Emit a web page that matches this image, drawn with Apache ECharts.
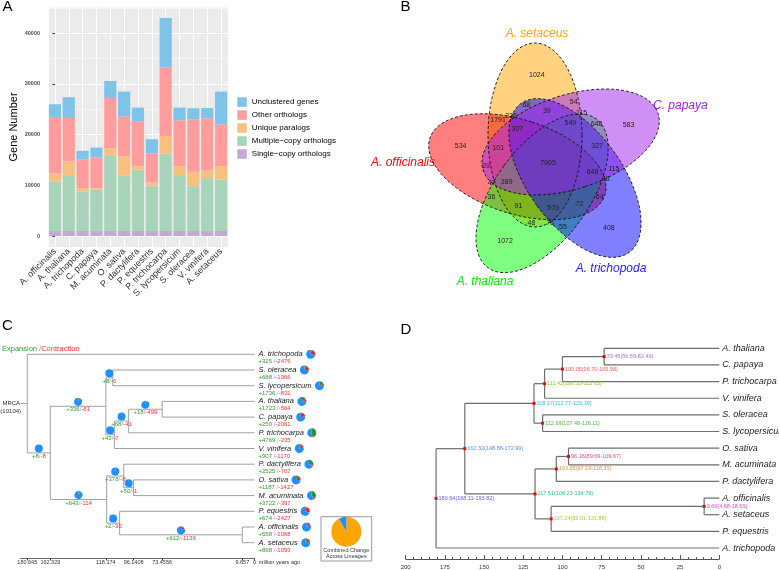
<!DOCTYPE html>
<html><head><meta charset="utf-8">
<script src="https://cdn.jsdelivr.net/npm/echarts@6/dist/echarts.min.js"></script>
<style>html,body{margin:0;padding:0;background:#fff}#c{width:779px;height:570px}</style>
</head><body><div id="c"></div>
<script>
// ================= DATA =================
// Panel A: gene family clustering
const speciesA = ['A. officinalis','A. thaliana','A. trichopoda','C. papaya','M. acuminata','O. sativa','P. dactylifera','P. equestris','P. trichocarpa','S. lycopersicum','S. oleracea','V. vinifera','A. setaceus'];
const singleCopy     = [1000,1000,1000,1000,1000,1000,1000,1000,1000,1000,1000,1000,1000];
const multipleCopy   = [9760,11000,7790,8120,14940,10880,12120,8840,15270,11010,8840,10420,10150];
const uniqueParalogs = [1580,2700,660,330,1320,3870,660,720,3480,1770,2820,1570,2630];
const otherOrthologs = [10950,8590,5640,6040,9970,7810,8790,5710,13450,9050,10310,10240,8200];
const unclustered    = [2690,4070,1710,1960,3350,4920,2760,2820,9780,2500,2230,2030,6500];
const yTicksA = [0,10000,20000,30000,40000];
const seriesNamesA = ['Single\u2212copy orthologs','Multiple\u2212copy orthologs','Unique paralogs','Other orthologs','Unclustered genes'];

// Panel B: Venn counts (sets clockwise from top; ring arrays indexed by the same rotation)
const vennSets = ['A. setaceus','C. papaya','A. trichopoda','A. thaliana','A. officinalis'];
const vennUnique     = [1024,583,408,1072,534];
const vennRingInner  = [549,648,579,389,307];
const vennRingMid    = [39,327,72,91,101];
const vennRingOuterA = [68,648,64,48,29];
const vennRingOuterB = [54,115,55,36,1791];
const vennRingOuterC = [115,48,76,47,236];
const vennCore = 7905;

// Panel C: CAFE expansion / contraction
const treeC = ['root',180.645,['A. trichopoda',
  ['n162',162.329,[
    ['eud',118.174,[
      ['sol',112.69,['S. oleracea','S. lycopersicum']],
      ['ros',111.42,[['n100',100.05,[['n73',73.4556,['A. thaliana','C. papaya']],'P. trichocarpa']],'V. vinifera']]]],
    ['mono',117.51,[
      ['n104',103.95,['P. dactylifera',['n96',96.1408,['O. sativa','M. acuminata']]]],
      ['n107',107.24,['P. equestris',['n10',9.657,['A. officinalis','A. setaceus']]]]]]]]]];
const cafeIds  = ['A. trichopoda','S. oleracea','S. lycopersicum','A. thaliana','C. papaya','P. trichocarpa','V. vinifera','P. dactylifera','O. sativa','M. acuminata','P. equestris','A. officinalis','A. setaceus','n162','eud','sol','ros','n100','n73','mono','n104','n96','n107','n10'];
const cafeGain = [325,688,1736,1723,250,4769,907,2525,1187,3722,674,558,898, 8,336,8,43,68,18,643,378,50,2,612];
const cafeLoss = [2476,1966,831,564,2061,235,1170,707,1427,397,2427,1068,1093, 8,81,6,7,41,499,114,8,1,30,1136];
const cafeRootFamilies = 10104;
const cafeAxisTicks = [180.645,162.329,118.174,96.1408,73.4556,9.657,0];
const combinedChange = [92,8];

// Panel D: divergence times
const treeD = ['root',180.64,[
  ['n162',162.32,[
    ['eud',118.17,[
      ['ros',111.42,[['n100',100.05,[['n73',73.45,['A. thaliana','C. papaya']],'P. trichocarpa']],'V. vinifera']],
      ['sol',112.69,['S. oleracea','S. lycopersicum']]]],
    ['mono',117.51,[
      ['n104',103.95,[['n96',96.16,['O. sativa','M. acuminata']],'P. dactylifera']],
      ['n107',107.24,[['n10',9.66,['A. officinalis','A. setaceus']],'P. equestris']]]]]],
  'A. trichopoda']];
const divIds = ['root','n162','eud','ros','n100','n73','sol','mono','n104','n96','n107','n10'];
const divLow  = [168.11,148.88,112.77,106.15,96.70,56.59,107.48,108.23,97.19,89.69,95.01,4.68];
const divHigh = [193.82,172.99,123.30,115.05,105.98,82.46,116.11,134.79,118.31,109.67,121.88,18.59];

// ================= STYLE / LAYOUT =================
const FONT = 'Liberation Sans';
const colorsA = ['#C3A8D8','#A8D4BA','#F7C07F','#FF9D9D','#80C3E8'];
const divColors = {root:'#5A5AE0',n162:'#5C8FDF',eud:'#33C6C6',ros:'#8CC43A',n100:'#E86262',n73:'#A070F0',sol:'#4DB84D',mono:'#33BF8A',n104:'#E0904C',n96:'#E04C82',n107:'#C6BE3C',n10:'#E048E0'};
const pieCols = ['#249A24','#FF1A1A','#1E90FF'];
const VENN = {cx:548, cy:163, rx:47, ry:92, off:[-13,-28]};
const vennFill = ['#FFA500','#A020F0','#0000FF','#00FF00','#FF0000'];
const vennDrawOrder = [0,4,3,2,1];
const vennRegionPolar = [[-7.2,89],[29.5,45.4],[-1.3,52],[-20.5,62],[22.9,66],[34,60]];
const vennSetLabel = [[-11,-129,'center'],[105,-57,'left'],[63,106,'center'],[-63,119,'center'],[-113,0,'right']];
const vennLabelColor = ['#FFA500','#A020F0','#2020FF','#00EE00','#FF0000'];

// ================= HELPERS =================
function layoutTree(tree){
  const segs=[], nodes=[]; let leaf=0;
  (function walk(n, parentAge){
    if (typeof n === 'string'){
      const y = leaf++;
      nodes.push({name:n, age:0, y, leaf:true, parentAge});
      segs.push([parentAge,y,0,y]);
      return y;
    }
    const [id, age, kids] = n;
    const ys = kids.map(k => walk(k, age));
    const y0 = Math.min(...ys), y1 = Math.max(...ys), y = (y0+y1)/2;
    segs.push([age,y0,age,y1]);
    if (parentAge != null) segs.push([parentAge,y,age,y]);
    nodes.push({name:id, age, y, leaf:false, parentAge});
    return y;
  })(tree, null);
  return {segs, nodes};
}
const LC = layoutTree(treeC), LD = layoutTree(treeD);
const mctx = document.createElement('canvas').getContext('2d');
function textW(s, font){ mctx.font = font; return mctx.measureText(s).width; }
function rot(v, deg){ const t=deg*Math.PI/180, c=Math.cos(t), s=Math.sin(t); return [v[0]*c - v[1]*s, v[0]*s + v[1]*c]; }
function pieEls(cx, cy, r, parts){
  const tot = parts.reduce((a,b)=>a+b,0); let a = -Math.PI/2; const out=[];
  parts.forEach((v,i)=>{ if(v<=0) return; const a0=a; a += v/tot*2*Math.PI;
    out.push({type:'sector', shape:{cx,cy,r0:0,r,startAngle:a0,endAngle:a,clockwise:true}, style:{fill:pieCols[i]}}); });
  return out;
}
function countsRich(g, l, sp){ return '{g|+' + g + sp + '}{s|/}{r|-' + l + '}'; }
const richCounts = (fs)=>({g:{fill:'#2E9E2E',fontSize:fs,fontFamily:FONT}, s:{fill:'#6FA8E0',fontSize:fs,fontFamily:FONT}, r:{fill:'#FF3030',fontSize:fs,fontFamily:FONT}});

function segSeries(name, xi, yi, L, stroke, w){
  return {name, type:'custom', xAxisIndex:xi, yAxisIndex:yi, data:L.segs, silent:true, z:3,
    renderItem:(p, api)=>{
      const a = api.coord([api.value(0), api.value(1)]), b = api.coord([api.value(2), api.value(3)]);
      return {type:'line', shape:{x1:a[0],y1:a[1],x2:b[0],y2:b[1]}, style:{stroke, lineWidth:w}};
    }};
}

// Venn items
const vennRings = [vennUnique, vennRingInner, vennRingMid, vennRingOuterA, vennRingOuterB, vennRingOuterC];
const vennItems = [];
vennRings.forEach((arr, t)=> arr.forEach((v,k)=> vennItems.push({v, ang:72*k + vennRegionPolar[t][0], r:vennRegionPolar[t][1]})));
vennItems.push({v:vennCore, ang:0, r:0});
function ellipsePts(k){
  const c = rot(VENN.off, 72*k), pts=[];
  for (let i=0;i<96;i++){ const t=i/96*2*Math.PI; const q = rot([VENN.rx*Math.cos(t), VENN.ry*Math.sin(t)], 72*k);
    pts.push([VENN.cx + c[0] + q[0], VENN.cy + c[1] + q[1]]); }
  return pts;
}

const option = {
  animation:false,
  textStyle:{fontFamily:FONT},
  grid:[
    {left:48, top:7, width:180, height:240, show:true, backgroundColor:'#EBEBEB', borderWidth:0},
    {left:20.55, top:354.3, width:233.95, height:188.4},
    {left:405.7, top:348.3, width:313.6, height:200}
  ],
  xAxis:[
    {type:'category', gridIndex:0, data:speciesA, axisLine:{show:false},
      axisTick:{alignWithLabel:true, length:2.5, lineStyle:{color:'#333'}},
      axisLabel:{rotate:45, fontSize:9, color:'#333', margin:3, interval:0}, splitLine:{show:false}},
    {type:'value', gridIndex:0, min:-0.5, max:12.5, splitNumber:13, axisLine:{show:false}, axisTick:{show:false}, axisLabel:{show:false},
      splitLine:{show:true, lineStyle:{color:'#fff', width:1}}},
    {type:'value', gridIndex:1, inverse:true, min:0, max:186, offset:15.7, position:'bottom',
      axisLine:{onZero:false, lineStyle:{color:'#444', width:0.8}},
      axisTick:{customValues:cafeAxisTicks, length:2, lineStyle:{color:'#444'}},
      axisLabel:{customValues:cafeAxisTicks, fontSize:5.5, color:'#333', margin:1.5, formatter:v=>String(v)},
      splitLine:{show:false}},
    {type:'value', gridIndex:2, inverse:true, min:0, max:200, interval:25, offset:11, position:'bottom',
      axisLine:{onZero:false, lineStyle:{color:'#555'}},
      axisTick:{inside:true, length:4, lineStyle:{color:'#555'}},
      minorTick:{show:true, splitNumber:5, length:2, lineStyle:{color:'#555'}},
      axisLabel:{fontSize:6, color:'#333', margin:5}, splitLine:{show:false}}
  ],
  yAxis:[
    {type:'value', gridIndex:0, min:-2150, max:45150, axisLine:{show:false},
      axisTick:{length:2.5, customValues:yTicksA, lineStyle:{color:'#333'}},
      axisLabel:{customValues:yTicksA, formatter:v=> (v%10000===0 && v>=0) ? String(v) : '', fontSize:5.5, fontWeight:'bold', color:'#4D4D4D', margin:8},
      splitLine:{lineStyle:{color:'#fff', width:1}},
      name:'Gene Number', nameLocation:'middle', nameGap:29, nameTextStyle:{fontSize:11, color:'#000'}},
    {type:'value', gridIndex:0, min:-2150, max:45150, splitNumber:10, axisLine:{show:false}, axisTick:{show:false}, axisLabel:{show:false},
      splitLine:{lineStyle:{color:'#fff', width:0.5}}},
    {type:'value', gridIndex:1, min:0, max:12, inverse:true, show:false},
    {type:'value', gridIndex:2, min:0, max:12, inverse:true, show:false}
  ],
  legend:{data:seriesNamesA.slice().reverse(), left:237.3, top:97.3, orient:'vertical', itemWidth:9.5, itemHeight:9.5, itemGap:3.5,
    padding:0, icon:'rect', selectedMode:false, textStyle:{fontSize:8, color:'#000'}},
  graphic:[
    {type:'text', x:2.5, y:-1, style:{text:'A', fontSize:15, fill:'#000', fontFamily:FONT}},
    {type:'text', x:400.5, y:-1, style:{text:'B', fontSize:15, fill:'#000', fontFamily:FONT}},
    {type:'text', x:2, y:318.7, style:{text:'C', fontSize:15, fill:'#000', fontFamily:FONT}},
    {type:'text', x:400.5, y:322, style:{text:'D', fontSize:15, fill:'#000', fontFamily:FONT}},
    {type:'text', x:2, y:349, style:{text:'{g|Expansion }{s|/}{r|Contraction}', verticalAlign:'middle', rich:richCounts(7.5)}},
    {type:'text', x:258.8, y:562.3, style:{text:'million years ago', fontSize:5.5, fill:'#333', fontFamily:FONT, verticalAlign:'middle'}},
    {type:'rect', shape:{x:321,y:516.7,width:50.7,height:44.3}, style:{fill:'none', stroke:'#999', lineWidth:1}},
    {type:'text', x:346.3, y:550.6, style:{text:'Combined Change', fontSize:5.5, fill:'#333', fontFamily:FONT, align:'center', verticalAlign:'middle'}},
    {type:'text', x:346.3, y:556.3, style:{text:'Across Lineages', fontSize:5.5, fill:'#333', fontFamily:FONT, align:'center', verticalAlign:'middle'}}
  ].concat(vennSets.map((s,k)=>({type:'text', x:VENN.cx+vennSetLabel[k][0], y:VENN.cy+vennSetLabel[k][1],
      style:{text:s, fontSize:12, fontStyle:'italic', fill:vennLabelColor[k], fontFamily:FONT, align:vennSetLabel[k][2], verticalAlign:'middle'}}))),
  series:[]
};

// Panel A bars
[singleCopy, multipleCopy, uniqueParalogs, otherOrthologs, unclustered].forEach((d,i)=>{
  option.series.push({name:seriesNamesA[i], type:'bar', stack:'genes', xAxisIndex:0, yAxisIndex:0, data:d, barWidth:'88%',
    itemStyle:{color:colorsA[i]}, silent:true});
});

// Panel B Venn fills, outlines, labels
option.series.push({name:'vennFill', type:'custom', coordinateSystem:'none', data:vennDrawOrder, silent:true, z:2,
  renderItem:(p)=>{ const k = vennDrawOrder[p.dataIndex];
    return {type:'polygon', shape:{points:ellipsePts(k)}, style:{fill:vennFill[k], opacity:0.5}}; }});
option.series.push({name:'vennLine', type:'custom', coordinateSystem:'none', data:[0,1,2,3,4], silent:true, z:3,
  renderItem:(p)=>({type:'polygon', shape:{points:ellipsePts(p.dataIndex)}, style:{fill:'none', stroke:'#111', lineWidth:0.9, lineDash:[3,2]}})});
option.series.push({name:'vennLabels', type:'custom', coordinateSystem:'none', data:vennItems.map(d=>d.v), silent:true, z:4,
  renderItem:(p)=>{ const it = vennItems[p.dataIndex]; const q = rot([0,-it.r], it.ang);
    return {type:'text', x:VENN.cx+q[0], y:VENN.cy+q[1], style:{text:String(it.v), fontSize:7, fill:'#222', fontFamily:FONT, align:'center', verticalAlign:'middle'}}; }});

// Panel C tree
option.series.push(segSeries('treeC', 2, 2, LC, '#A0A0A0', 1));
option.series.push({name:'cafeNodes', type:'custom', xAxisIndex:2, yAxisIndex:2, data:LC.nodes.map(n=>[n.age,n.y]), silent:true, z:5,
  renderItem:(p, api)=>{
    const n = LC.nodes[p.dataIndex]; const ch=[];
    if (n.parentAge == null){
      const a = api.coord([186, n.y]), b = api.coord([n.age, n.y]);
      ch.push({type:'line', shape:{x1:a[0],y1:a[1],x2:b[0],y2:b[1]}, style:{stroke:'#A0A0A0', lineWidth:1}});
      ch.push({type:'text', x:a[0]-0.5, y:a[1]-0.5, style:{text:'MRCA', fontSize:6, fill:'#333', fontFamily:FONT, align:'right', verticalAlign:'middle'}});
      ch.push({type:'text', x:a[0]+0.5, y:a[1]+7.5, style:{text:'(' + cafeRootFamilies + ')', fontSize:6, fill:'#333', fontFamily:FONT, align:'right', verticalAlign:'middle'}});
      return {type:'group', children:ch};
    }
    const gi = cafeIds.indexOf(n.name), g = cafeGain[gi], l = cafeLoss[gi];
    const parts = [g, l, cafeRootFamilies - g - l];
    if (n.leaf){
      const c = api.coord([0, n.y]); const tx = c[0] + 4;
      const f = 'italic 7.5px "' + FONT + '"';
      ch.push({type:'text', x:tx, y:c[1], style:{text:n.name, fontSize:7.5, fontStyle:'italic', fill:'#222', fontFamily:FONT, verticalAlign:'middle'}});
      ch.push({type:'text', x:tx, y:c[1]+7.4, style:{text:countsRich(g,l,' '), verticalAlign:'middle', rich:richCounts(6)}});
      pieEls(tx + textW(n.name, f) + 8, c[1], 4.5, parts).forEach(e=>ch.push(e));
    } else {
      const c = api.coord([(n.parentAge + n.age)/2, n.y]);
      pieEls(c[0], c[1]-4.5, 4, parts).forEach(e=>ch.push(e));
      ch.push({type:'text', x:c[0], y:c[1]+3.5, style:{text:countsRich(g,l,''), align:'center', verticalAlign:'middle', rich:richCounts(6)}});
    }
    return {type:'group', children:ch};
  }});
option.series.push({name:'Combined Change', type:'pie', center:[346.3,531.7], radius:15, startAngle:90, clockwise:true, silent:true,
  label:{show:false}, labelLine:{show:false}, data:combinedChange.map((v,i)=>({value:v, name:['changed','unchanged'][i], itemStyle:{color:['#FFA500','#1E90FF'][i]}}))});

// Panel D tree
option.series.push(segSeries('treeD', 3, 3, LD, '#6E6E6E', 1.2));
option.series.push({name:'divNodes', type:'custom', xAxisIndex:3, yAxisIndex:3, data:LD.nodes.map(n=>[n.age,n.y]), silent:true, z:5,
  renderItem:(p, api)=>{
    const n = LD.nodes[p.dataIndex]; const c = api.coord([n.age, n.y]);
    if (n.leaf){
      return {type:'text', x:c[0]+3, y:c[1], style:{text:n.name, fontSize:9, fontStyle:'italic', fill:'#222', fontFamily:FONT, verticalAlign:'middle'}};
    }
    const i = divIds.indexOf(n.name);
    const lbl = n.age.toFixed(2) + '(' + divLow[i].toFixed(2) + '-' + divHigh[i].toFixed(2) + ')';
    return {type:'group', children:[
      {type:'rect', shape:{x:c[0]-1.5, y:c[1]-1.5, width:3, height:3}, style:{fill:'#FF0000'}},
      {type:'text', x:c[0]+2.5, y:c[1], style:{text:lbl, fontSize:5.5, fill:divColors[n.name], fontFamily:FONT, verticalAlign:'middle'}}
    ]};
  }});

const chart = echarts.init(document.getElementById('c'), null, {renderer:'canvas', width:779, height:570});
chart.setOption(option);
</script>
</body></html>
